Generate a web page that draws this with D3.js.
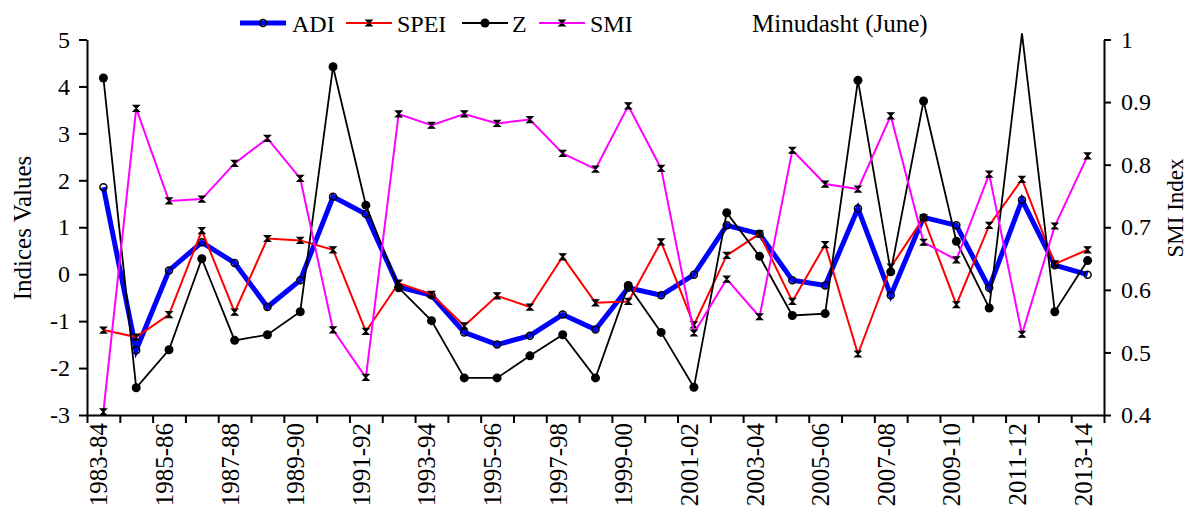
<!DOCTYPE html>
<html>
<head>
<meta charset="utf-8">
<script src="https://cdn.jsdelivr.net/npm/d3@7"></script>
<style>
  body { margin: 0; background: #fff; }
</style>
</head>
<body>
<div id="chart"></div>
<script>
// Water years on the x axis
var years = ["1983-84","1984-85","1985-86","1986-87","1987-88","1988-89","1989-90","1990-91",
  "1991-92","1992-93","1993-94","1994-95","1995-96","1996-97","1997-98","1998-99","1999-00",
  "2000-01","2001-02","2002-03","2003-04","2004-05","2005-06","2006-07","2007-08","2008-09",
  "2009-10","2010-11","2011-12","2012-13","2013-14"];

// left axis series
var adi = [1.85,-1.62,0.08,0.68,0.24,-0.70,-0.13,1.65,1.28,-0.27,-0.45,-1.24,-1.50,-1.31,-0.86,
  -1.18,-0.29,-0.45,-0.01,1.04,0.86,-0.13,-0.24,1.40,-0.45,1.21,1.04,-0.29,1.58,0.19,-0.01];
var spei = [-1.19,-1.34,-0.86,0.93,-0.81,0.76,0.72,0.52,-1.22,-0.19,-0.43,-1.10,-0.46,-0.70,0.37,
  -0.61,-0.58,0.69,-1.08,0.40,0.86,-0.58,0.63,-1.70,0.15,1.20,-0.65,1.04,2.02,0.22,0.52];
var z = [4.18,-2.42,-1.61,0.33,-1.41,-1.29,-0.80,4.42,1.47,-0.29,-0.99,-2.21,-2.21,-1.74,-1.29,
  -2.21,-0.24,-1.24,-2.41,1.31,0.38,-0.88,-0.84,4.13,0.05,3.69,0.70,-0.72,5.13,-0.80,0.29];
// right axis series
var smi = [0.405,0.890,0.742,0.745,0.802,0.842,0.778,0.536,0.460,0.881,0.863,0.881,0.866,0.872,
  0.818,0.793,0.894,0.794,0.531,0.617,0.557,0.823,0.769,0.761,0.878,0.676,0.648,0.785,0.529,0.702,0.814];

var leftTicks = [-3,-2,-1,0,1,2,3,4,5];
var rightTicks = [0.4,0.5,0.6,0.7,0.8,0.9,1];

var width = 1189, height = 510;
var plotLeft = 87, plotRight = 1104, plotTop = 39.5, plotBottom = 415;
var serif = '"Liberation Serif", serif';

var svg = d3.select('#chart').append('svg').attr('width', width).attr('height', height);

var x = d3.scaleBand().domain(years).range([plotLeft, plotRight]);
var xEdge = d3.scaleLinear().domain([0, years.length]).range([plotLeft, plotRight]);
var y = d3.scaleLinear().domain([-3, 5]).range([plotBottom, plotTop]);
var y2 = d3.scaleLinear().domain([0.4, 1]).range([plotBottom, plotTop]);
var cx = function(i) { return x(years[i]) + x.bandwidth() / 2; };

// axes
var gL = svg.append('g').attr('transform', 'translate(' + plotLeft + ',0)')
  .call(d3.axisLeft(y).tickValues(leftTicks).tickSize(8).tickPadding(9).tickSizeOuter(0));
var gR = svg.append('g').attr('transform', 'translate(' + plotRight + ',0)')
  .call(d3.axisRight(y2).tickValues(rightTicks).tickFormat(d3.format('')).tickSize(7).tickPadding(10).tickSizeOuter(0));
var gB = svg.append('g').attr('transform', 'translate(0,' + plotBottom + ')')
  .call(d3.axisBottom(xEdge).tickValues(d3.range(years.length + 1)).tickFormat('').tickSize(8).tickSizeOuter(0));

[gL, gR, gB].forEach(function(g) {
  g.select('.domain').attr('stroke', '#000').attr('stroke-width', 2);
  g.selectAll('.tick line').attr('stroke', '#000').attr('stroke-width', 2);
  g.selectAll('.tick text').style('font-family', serif).style('font-size', '24px').attr('fill', '#000');
});
gL.selectAll('.tick text').text(function(d) { return d < 0 ? '-' + Math.abs(d) : d; });

// x labels, every other year, rotated
svg.append('g').selectAll('text')
  .data(years.filter(function(d, i) { return i % 2 === 0; }))
  .enter().append('text')
  .attr('transform', function(d) { return 'translate(' + (x(d) + x.bandwidth() / 2 + 4) + ',' + (plotBottom + 8) + ') rotate(-90)'; })
  .attr('text-anchor', 'end')
  .style('font-family', serif).style('font-size', '25px')
  .text(function(d) { return d; });

// axis titles
svg.append('text').attr('transform', 'translate(31,228) rotate(-90)')
  .attr('text-anchor', 'middle').style('font-family', serif).style('font-size', '25px').text('Indices Values');
svg.append('text').attr('transform', 'translate(1183,208) rotate(-90)')
  .attr('text-anchor', 'middle').style('font-family', serif).style('font-size', '23px').text('SMI Index');

// lines
var lineL = d3.line().x(function(d, i) { return cx(i); }).y(function(d) { return y(d); });
var lineR = d3.line().x(function(d, i) { return cx(i); }).y(function(d) { return y2(d); });

var series = [
  {name: 'ADI', data: adi, line: lineL, color: '#0000ff', width: 5, marker: 'open'},
  {name: 'SPEI', data: spei, line: lineL, color: '#ff0000', width: 2, marker: 'bow'},
  {name: 'Z', data: z, line: lineL, color: '#000000', width: 1.8, marker: 'dot'},
  {name: 'SMI', data: smi, line: lineR, color: '#ff00ff', width: 2, marker: 'bow'}
];

var bowPath = 'M-3,-3L3,-3L-3,3L3,3Z';

function drawMarker(g, type) {
  if (type === 'open') {
    g.append('circle').attr('r', 3.5).attr('fill', 'none').attr('stroke', '#000').attr('stroke-width', 1.5);
  } else if (type === 'dot') {
    g.append('circle').attr('r', 4.5).attr('fill', '#000');
  } else {
    g.append('path').attr('d', bowPath).attr('fill', '#000').attr('stroke', '#000').attr('stroke-width', 1.2);
  }
}

series.forEach(function(s) {
  svg.append('path').datum(s.data)
    .attr('d', s.line)
    .attr('fill', 'none')
    .attr('stroke', s.color)
    .attr('stroke-width', s.width)
    .attr('stroke-linejoin', 'miter');
  var yy = s.line === lineL ? y : y2;
  s.data.forEach(function(v, i) {
    if (s.line === lineL && v > 5) return; // marker outside frame
    var g = svg.append('g').attr('transform', 'translate(' + cx(i) + ',' + yy(v) + ')');
    drawMarker(g, s.marker);
  });
});

// legend
var legend = [
  {s: series[0], x0: 240, tx: 292},
  {s: series[1], x0: 346, tx: 397},
  {s: series[2], x0: 462, tx: 512},
  {s: series[3], x0: 539, tx: 590}
];
legend.forEach(function(l) {
  svg.append('line').attr('x1', l.x0).attr('x2', l.x0 + 46).attr('y1', 23).attr('y2', 23)
    .attr('stroke', l.s.color).attr('stroke-width', l.s.width);
  drawMarker(svg.append('g').attr('transform', 'translate(' + (l.x0 + 23) + ',23)'), l.s.marker);
  svg.append('text').attr('x', l.tx).attr('y', 31.5)
    .style('font-family', serif).style('font-size', '24px').text(l.s.name);
});
svg.append('text').attr('x', 752).attr('y', 31.5)
  .style('font-family', serif).style('font-size', '25px').text('Minudasht (June)');
</script>
</body>
</html>
